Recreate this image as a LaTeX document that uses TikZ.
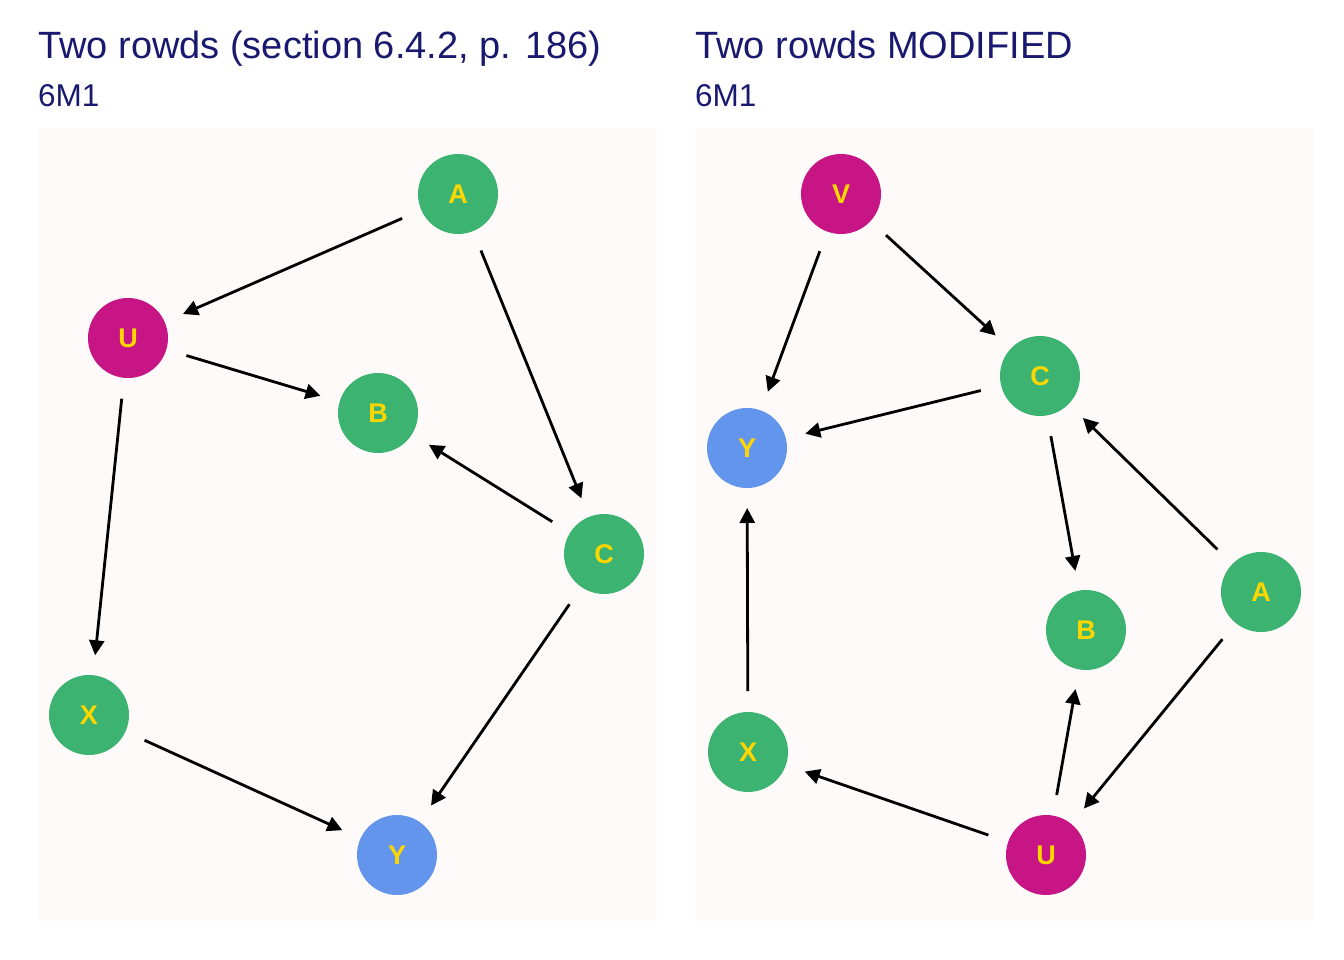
\documentclass[tikz,border=0pt]{standalone}
\usepackage{fontspec}
\setmainfont{Liberation Sans}
\usetikzlibrary{arrows.meta}
\definecolor{panelbg}{RGB}{253,250,249}
\definecolor{titlecol}{RGB}{25,25,112}
\definecolor{grn}{RGB}{60,179,113}
\definecolor{mag}{RGB}{199,21,133}
\definecolor{blu}{RGB}{100,149,237}
\definecolor{gold}{RGB}{255,215,0}
\tikzset{
  dagnode/.style={circle, minimum size=80pt, inner sep=0pt, outer sep=0pt, text=gold, font=\bfseries\fontsize{27}{27}\selectfont},
  gnode/.style={dagnode, fill=grn},
  mnode/.style={dagnode, fill=mag},
  bnode/.style={dagnode, fill=blu},
  edge/.style={-{Triangle[length=15pt,width=15pt]}, line width=2.8pt, shorten >=20pt, shorten <=21pt},
  ttl/.style={anchor=base west, inner sep=0pt, text=titlecol, font=\fontsize{38}{38}\selectfont},
  sub/.style={anchor=base west, inner sep=0pt, text=titlecol, font=\fontsize{31.5}{31.5}\selectfont},
}
\begin{document}
\begin{tikzpicture}[x=1pt,y=-1pt]
\useasboundingbox (0,0) rectangle (1344,960);
\fill[white] (0,0) rectangle (1344,960);
\fill[panelbg] (38,128) rectangle (657,921);
\fill[panelbg] (695,128) rectangle (1314,921);
\node[ttl] (t1) at (38,59) {Two rowds (section 6.4.2, p. 186)};
\node[sub] (s1) at (38,107) {6M1};
\node[ttl] (t2) at (695,59) {Two rowds MODIFIED};
\node[sub] (s2) at (695,107) {6M1};
% left
\node[gnode] (LA) at (458,194) {A};
\node[mnode] (LU) at (128,338) {U};
\node[gnode] (LB) at (378,413) {B};
\node[gnode] (LC) at (604,554) {C};
\node[gnode] (LX) at (89,715) {X};
\node[bnode] (LY) at (397,855) {Y};
\draw[edge] (LA) -- (LU);
\draw[edge] (LA) -- (LC);
\draw[edge] (LU) -- (LB);
\draw[edge] (LU) -- (LX);
\draw[edge] (LC) -- (LB);
\draw[edge] (LC) -- (LY);
\draw[edge] (LX) -- (LY);
% right
\node[mnode] (RV) at (841,194) {V};
\node[gnode] (RC) at (1040,376) {C};
\node[bnode] (RY) at (747,448) {Y};
\node[gnode] (RA) at (1261,592) {A};
\node[gnode] (RB) at (1086,630) {B};
\node[gnode] (RX) at (748,752) {X};
\node[mnode] (RU) at (1046,855) {U};
\draw[edge] (RV) -- (RY);
\draw[edge] (RV) -- (RC);
\draw[edge] (RC) -- (RY);
\draw[edge] (RC) -- (RB);
\draw[edge] (RA) -- (RC);
\draw[edge] (RA) -- (RU);
\draw[edge] (RU) -- (RB);
\draw[edge] (RU) -- (RX);
\draw[edge] (RX) -- (RY);
\end{tikzpicture}
\end{document}
